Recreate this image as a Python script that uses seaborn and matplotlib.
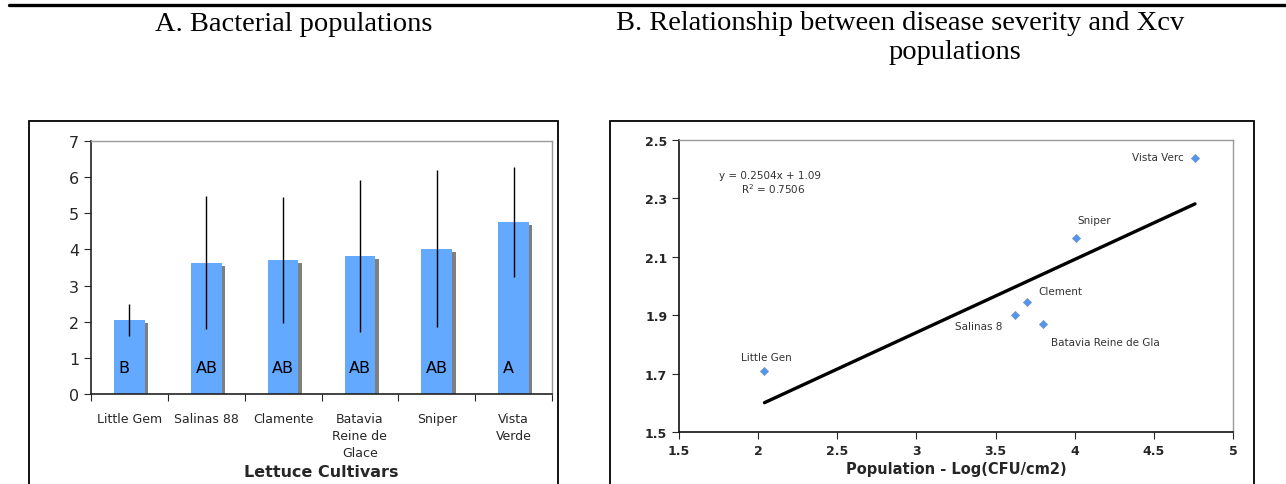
import numpy as np
import pandas as pd
import matplotlib
matplotlib.use("Agg")
import matplotlib.pyplot as plt
import matplotlib.patheffects as pe
from matplotlib.patches import Rectangle
from matplotlib.lines import Line2D
from matplotlib.ticker import FixedLocator, FuncFormatter
import seaborn as sns

# panel A data
cultivars = ["Little Gem", "Salinas 88", "Clamente", "Batavia\nReine de\nGlace", "Sniper", "Vista\nVerde"]
population = [2.05, 3.63, 3.71, 3.82, 4.02, 4.76]
pop_err = [0.44, 1.84, 1.75, 2.10, 2.17, 1.53]
groups = ["B", "AB", "AB", "AB", "AB", "A"]

# panel B data
point_names = ["Little Gen", "Salinas 8", "Clement", "Batavia Reine de Gla", "Sniper", "Vista Verc"]
log_pop = [2.04, 3.62, 3.70, 3.80, 4.01, 4.76]
severity = [1.708, 1.902, 1.945, 1.871, 2.164, 2.438]
label_offsets = [(2, 14, "center"), (-12, -11, "right"), (11, 11, "left"),
                 (8, -18, "left"), (1, 18, "left"), (-11, 1, "right")]

sns.set_style("white")
plt.rcParams["font.family"] = ["DejaVu Sans"]

W, H = 1286, 485
fig = plt.figure(figsize=(W / 100, H / 100), dpi=100)


def fbox(x0, y0, x1, y1):
    # pixel box (top-left origin) -> figure fraction rect
    return [x0 / W, 1 - y1 / H, (x1 - x0) / W, (y1 - y0) / H]


# top rule and panel frames
fig.add_artist(Line2D([9 / W, 1], [1 - 6 / H, 1 - 6 / H], color="black", lw=2.4,
                      transform=fig.transFigure))
for x0, x1 in [(29, 558), (610, 1254)]:
    fig.add_artist(Rectangle((x0 / W, -0.01), (x1 - x0) / W, 1 - 122 / H + 0.01,
                             transform=fig.transFigure, fill=False, ec="black", lw=1.3))

title_font = dict(family="Liberation Serif", fontsize=20.5, color="black")
fig.text(294 / W, 1 - 31 / H, "A. Bacterial populations", ha="center", va="baseline", **title_font)
fig.text(900 / W, 1 - 30 / H, "B. Relationship between disease severity and Xcv",
         ha="center", va="baseline", **title_font)
fig.text(955 / W, 1 - 59 / H, "populations", ha="center", va="baseline", **title_font)

# ---------------- panel A ----------------
axA = fig.add_axes(fbox(91, 142, 552, 395))
dfA = pd.DataFrame({"cultivar": cultivars, "pop": population})
sns.barplot(data=dfA, x="cultivar", y="pop", color="#63A9FF", saturation=1,
            width=0.40, errorbar=None, ax=axA)
for bar in axA.patches:
    bar.set_path_effects([pe.SimplePatchShadow(offset=(2.5, -2.5), shadow_rgbFace="#7f7f7f", alpha=1),
                          pe.Normal()])
    bar.set_edgecolor("none")
xpos = np.arange(len(cultivars))
axA.errorbar(xpos, population, yerr=pop_err, fmt="none", ecolor="black", elinewidth=1, capsize=0)
for i, g in enumerate(groups):
    axA.text(i - 0.20 + 0.06, 0.72, g, ha="left", va="center", fontsize=11.5, color="black")

axA.set_ylim(0, 7)
axA.set_xlim(-0.5, len(cultivars) - 0.5)
axA.set_yticks(range(8))
axA.tick_params(axis="y", labelsize=11.5, length=5, direction="out", left=True, width=0.8)
axA.tick_params(axis="x", which="major", length=0, labelsize=9, pad=13)
axA.xaxis.set_minor_locator(FixedLocator(np.arange(-0.5, len(cultivars), 1.0)))
axA.tick_params(axis="x", which="minor", length=5, direction="out", bottom=True, width=0.8)
for lbl in axA.get_xticklabels():
    lbl.set_linespacing(1.42)
    lbl.set_verticalalignment("top")
axA.set_xlabel("Lettuce Cultivars", fontsize=11.5, fontweight="bold", labelpad=3)
axA.set_ylabel("")
for s in ["left", "bottom"]:
    axA.spines[s].set_color("#222222")
    axA.spines[s].set_linewidth(1.2)
for s in ["top", "right"]:
    axA.spines[s].set_color("#9a9a9a")
    axA.spines[s].set_linewidth(1.0)

# ---------------- panel B ----------------
axB = fig.add_axes(fbox(679, 141, 1233, 433))
dfB = pd.DataFrame({"logpop": log_pop, "sev": severity, "name": point_names})
sns.regplot(data=dfB, x="logpop", y="sev", scatter=False, ci=None, truncate=True,
            line_kws=dict(color="black", lw=2.4), ax=axB)
sns.scatterplot(data=dfB, x="logpop", y="sev", marker="D", s=18, color="#4F97F2",
                edgecolor="#7d8ea8", linewidth=0.4, ax=axB, zorder=5)
for (name, x, y), (dx, dy, ha) in zip(zip(point_names, log_pop, severity), label_offsets):
    axB.annotate(name, (x, y), xytext=(dx, dy), textcoords="offset pixels",
                 ha=ha, va="center", fontsize=7.5, color="#333333")

axB.text(0.165, 0.88, "y = 0.2504x + 1.09", transform=axB.transAxes,
         ha="center", va="center", fontsize=7.5, color="#333333")
axB.text(0.17, 0.835, "R$^2$ = 0.7506", transform=axB.transAxes,
         ha="center", va="center", fontsize=7.5, color="#333333")

axB.set_xlim(1.5, 5)
axB.set_ylim(1.5, 2.5)
axB.set_xticks(np.arange(1.5, 5.01, 0.5))
axB.set_yticks(np.arange(1.5, 2.51, 0.2))
axB.xaxis.set_major_formatter(FuncFormatter(lambda v, p: f"{v:g}"))
axB.yaxis.set_major_formatter(FuncFormatter(lambda v, p: f"{v:.1f}"))
axB.tick_params(axis="both", labelsize=9, length=5, direction="out", width=0.8,
                left=True, bottom=True)
for lbl in axB.get_xticklabels() + axB.get_yticklabels():
    lbl.set_fontweight("bold")
axB.set_xlabel("Population - Log(CFU/cm2)", fontsize=10.5, fontweight="bold", labelpad=3)
axB.set_ylabel("")
for s in ["left", "bottom"]:
    axB.spines[s].set_color("#111111")
    axB.spines[s].set_linewidth(1.2)
for s in ["top", "right"]:
    axB.spines[s].set_color("#9a9a9a")
    axB.spines[s].set_linewidth(1.0)

fig.savefig("out.png", dpi=100)
